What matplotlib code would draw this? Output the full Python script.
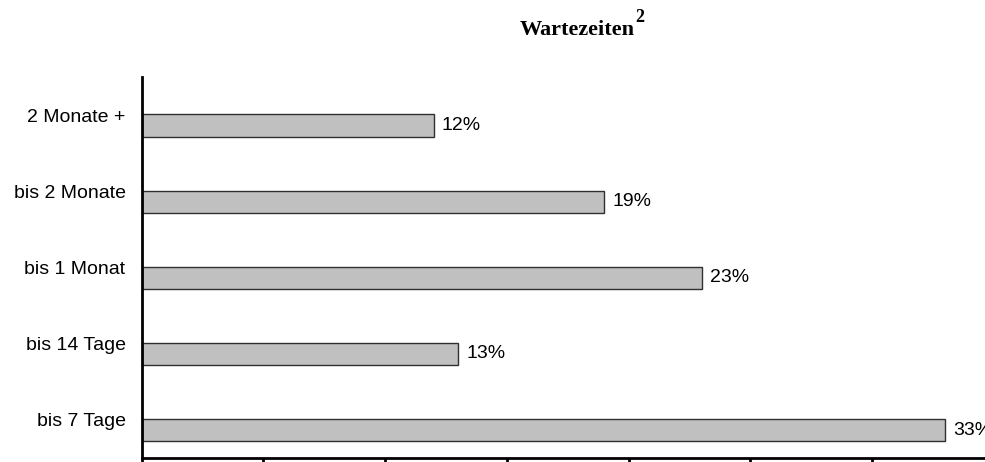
import matplotlib
matplotlib.use("Agg")
import matplotlib.pyplot as plt
import numpy as np

categories = ["bis 7 Tage", "bis 14 Tage", "bis 1 Monat", "bis 2 Monate", "2 Monate +"]
values = [33, 13, 23, 19, 12]
x_ticks = [0, 5, 10, 15, 20, 25, 30, 35]

plt.rcParams["font.family"] = ["Liberation Sans", "DejaVu Sans"]

fig = plt.figure(figsize=(9.85, 4.62), dpi=100)
# axes runs past the right/bottom edge, as in the cropped reference
ax = fig.add_axes([0.1437, 0.0093, 0.8653, 0.824])

pos = np.arange(len(categories))
bar_off = 0.137
ax.barh(pos - bar_off, values, height=0.29, color="#c0c0c0",
        edgecolor="#303030", linewidth=1.0)
for p, v in zip(pos, values):
    ax.text(v + 0.33, p - bar_off, f"{v}%", va="center", ha="left", fontsize=14)

ax.set_xlim(0, 35)
ax.set_ylim(-0.5, 4.5)
ax.set_yticks(pos)
ax.set_yticklabels(categories, fontsize=14)
ax.set_xticks(x_ticks)
ax.tick_params(axis="y", length=0, pad=11.5)
ax.tick_params(axis="x", direction="out", length=8, width=2, labelbottom=False)
for s in ("top", "right"):
    ax.spines[s].set_visible(False)
for s in ("left", "bottom"):
    ax.spines[s].set_linewidth(2)

fig.text(635 / 985, 1 - 35 / 462, "Wartezeiten", ha="right", va="baseline",
         fontsize=16, fontweight="bold", family="Liberation Serif")
fig.text(635 / 985, 1 - 22 / 462, "2", ha="left", va="baseline",
         fontsize=13, fontweight="bold", family="Liberation Serif")

fig.savefig("out.png", dpi=100)
